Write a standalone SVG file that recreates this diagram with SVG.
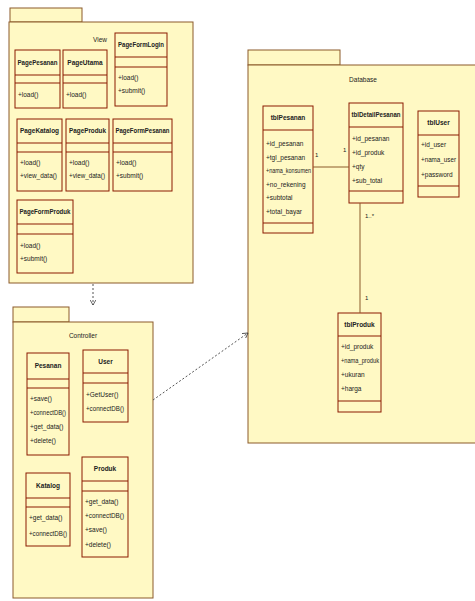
<svg xmlns="http://www.w3.org/2000/svg" width="475" height="601" viewBox="0 0 475 601">
<defs>
<style>
.pkg{fill:#FFF9C4;stroke:#8B5A2B;stroke-width:1}
.cls{fill:#FFF9C4;stroke:#8B1A00;stroke-width:1}
.sep{stroke:#8B1A00;stroke-width:1}
text{font-family:"Liberation Sans",Arial,sans-serif;font-size:6.5px;fill:#222}
.nm{font-weight:bold;text-anchor:middle}
.lbl{text-anchor:middle}
.dep{fill:none;stroke:#555;stroke-width:1;stroke-dasharray:2,2}
.asc{fill:none;stroke:#8B5A2B;stroke-width:1}
</style>
<marker id="open" viewBox="0 0 8 8" refX="7" refY="4" markerWidth="6" markerHeight="6" orient="auto">
<path d="M0,0 L7,4 L0,8" fill="none" stroke="#333" stroke-width="1"/>
</marker>
</defs>
<rect width="475" height="601" fill="#fff"/>

<g id="pkg-view">
<rect class="pkg" x="10" y="8" width="72" height="14"/>
<rect class="pkg" x="9" y="22" width="184" height="261"/>
<text class="lbl" x="100" y="42">View</text>
</g>
<g id="PagePesanan">
<rect class="cls" x="15" y="50" width="45" height="58"/>
<line class="sep" x1="15" y1="75" x2="60" y2="75"/><line class="sep" x1="15" y1="83" x2="60" y2="83"/>
<text class="nm" x="37.5" y="65" textLength="40" lengthAdjust="spacingAndGlyphs">PagePesanan</text>
<text x="18" y="97">+load()</text>
</g>
<g id="PageUtama">
<rect class="cls" x="63" y="50" width="44" height="58"/>
<line class="sep" x1="63" y1="75" x2="107" y2="75"/><line class="sep" x1="63" y1="83" x2="107" y2="83"/>
<text class="nm" x="85" y="65">PageUtama</text>
<text x="66" y="97">+load()</text>
</g>
<g id="PageFormLogin">
<rect class="cls" x="115" y="33" width="52" height="73"/>
<line class="sep" x1="115" y1="57" x2="167" y2="57"/><line class="sep" x1="115" y1="67" x2="167" y2="67"/>
<text class="nm" x="141" y="47" textLength="46" lengthAdjust="spacingAndGlyphs">PageFormLogin</text>
<text x="118" y="80">+load()</text>
<text x="118" y="93">+submit()</text>
</g>
<g id="PageKatalog">
<rect class="cls" x="17" y="119" width="45" height="72"/>
<line class="sep" x1="17" y1="143" x2="62" y2="143"/><line class="sep" x1="17" y1="152" x2="62" y2="152"/>
<text class="nm" x="39.5" y="133" textLength="39" lengthAdjust="spacingAndGlyphs">PageKatalog</text>
<text x="20" y="165">+load()</text>
<text x="20" y="178" textLength="37" lengthAdjust="spacingAndGlyphs">+view_data()</text>
</g>
<g id="PageProduk">
<rect class="cls" x="66" y="119" width="43" height="72"/>
<line class="sep" x1="66" y1="143" x2="109" y2="143"/><line class="sep" x1="66" y1="152" x2="109" y2="152"/>
<text class="nm" x="87.5" y="133" textLength="37" lengthAdjust="spacingAndGlyphs">PageProduk</text>
<text x="69" y="165">+load()</text>
<text x="69" y="178" textLength="36" lengthAdjust="spacingAndGlyphs">+view_data()</text>
</g>
<g id="PageFormPesanan">
<rect class="cls" x="113" y="119" width="59" height="72"/>
<line class="sep" x1="113" y1="143" x2="172" y2="143"/><line class="sep" x1="113" y1="152" x2="172" y2="152"/>
<text class="nm" x="142.5" y="133" textLength="54" lengthAdjust="spacingAndGlyphs">PageFormPesanan</text>
<text x="116" y="165">+load()</text>
<text x="116" y="178">+submit()</text>
</g>
<g id="PageFormProduk">
<rect class="cls" x="17" y="200" width="56" height="73"/>
<line class="sep" x1="17" y1="224" x2="73" y2="224"/><line class="sep" x1="17" y1="234" x2="73" y2="234"/>
<text class="nm" x="45" y="214" textLength="51" lengthAdjust="spacingAndGlyphs">PageFormProduk</text>
<text x="20" y="248">+load()</text>
<text x="20" y="261">+submit()</text>
</g>

<g id="pkg-controller">
<rect class="pkg" x="13" y="307" width="56" height="15"/>
<rect class="pkg" x="13" y="322" width="140" height="276"/>
<text class="lbl" x="83" y="338">Controller</text>
</g>
<g id="Pesanan">
<rect class="cls" x="27" y="353" width="42" height="102"/>
<line class="sep" x1="27" y1="379" x2="69" y2="379"/><line class="sep" x1="27" y1="388" x2="69" y2="388"/>
<text class="nm" x="48" y="368">Pesanan</text>
<text x="30" y="401">+save()</text>
<text x="30" y="415" textLength="36" lengthAdjust="spacingAndGlyphs">+connectDB()</text>
<text x="30" y="429">+get_data()</text>
<text x="30" y="443">+delete()</text>
</g>
<g id="User">
<rect class="cls" x="83" y="350" width="45" height="72"/>
<line class="sep" x1="83" y1="373" x2="128" y2="373"/><line class="sep" x1="83" y1="383" x2="128" y2="383"/>
<text class="nm" x="105.5" y="364">User</text>
<text x="86" y="397">+GetUser()</text>
<text x="86" y="411" textLength="38" lengthAdjust="spacingAndGlyphs">+connectDB()</text>
</g>
<g id="Katalog">
<rect class="cls" x="26" y="473" width="44" height="73"/>
<line class="sep" x1="26" y1="498" x2="70" y2="498"/><line class="sep" x1="26" y1="507" x2="70" y2="507"/>
<text class="nm" x="48" y="488">Katalog</text>
<text x="29" y="520">+get_data()</text>
<text x="29" y="536" textLength="38" lengthAdjust="spacingAndGlyphs">+connectDB()</text>
</g>
<g id="Produk">
<rect class="cls" x="82" y="457" width="46" height="100"/>
<line class="sep" x1="82" y1="481" x2="128" y2="481"/><line class="sep" x1="82" y1="491" x2="128" y2="491"/>
<text class="nm" x="105" y="471">Produk</text>
<text x="85" y="504">+get_data()</text>
<text x="85" y="518" textLength="39" lengthAdjust="spacingAndGlyphs">+connectDB()</text>
<text x="85" y="532">+save()</text>
<text x="85" y="547">+delete()</text>
</g>

<g id="pkg-database">
<rect class="pkg" x="248" y="50" width="92" height="15"/>
<rect class="pkg" x="248" y="65" width="230" height="378"/>
<text class="lbl" x="363" y="82">Database</text>
</g>
<g id="tblPesanan">
<rect class="cls" x="263" y="106" width="50" height="127"/>
<line class="sep" x1="263" y1="130" x2="313" y2="130"/><line class="sep" x1="263" y1="223" x2="313" y2="223"/>
<text class="nm" x="288" y="120">tblPesanan</text>
<text x="266" y="146">+id_pesanan</text>
<text x="266" y="159.5">+tgl_pesanan</text>
<text x="266" y="173" textLength="45" lengthAdjust="spacingAndGlyphs">+nama_konsumen</text>
<text x="266" y="186.5">+no_rekening</text>
<text x="266" y="200">+subtotal</text>
<text x="266" y="213.5">+total_bayar</text>
</g>
<g id="tblDetailPesanan">
<rect class="cls" x="349" y="103" width="54" height="100"/>
<line class="sep" x1="349" y1="127" x2="403" y2="127"/><line class="sep" x1="349" y1="191" x2="403" y2="191"/>
<text class="nm" x="376" y="117" textLength="49" lengthAdjust="spacingAndGlyphs">tblDetailPesanan</text>
<text x="352" y="141">+id_pesanan</text>
<text x="352" y="155">+id_produk</text>
<text x="352" y="169">+qty</text>
<text x="352" y="183">+sub_total</text>
</g>
<g id="tblUser">
<rect class="cls" x="418" y="111" width="41" height="86"/>
<line class="sep" x1="418" y1="135" x2="459" y2="135"/><line class="sep" x1="418" y1="186" x2="459" y2="186"/>
<text class="nm" x="438.5" y="125">tblUser</text>
<text x="421" y="147">+id_user</text>
<text x="421" y="162" textLength="35" lengthAdjust="spacingAndGlyphs">+nama_user</text>
<text x="421" y="177">+password</text>
</g>
<g id="tblProduk">
<rect class="cls" x="338" y="313" width="43" height="99"/>
<line class="sep" x1="338" y1="336" x2="381" y2="336"/><line class="sep" x1="338" y1="401" x2="381" y2="401"/>
<text class="nm" x="359.5" y="327">tblProduk</text>
<text x="341" y="349">+id_produk</text>
<text x="341" y="363" textLength="38" lengthAdjust="spacingAndGlyphs">+nama_produk</text>
<text x="341" y="377">+ukuran</text>
<text x="341" y="391">+harga</text>
</g>

<g id="connectors">
<line class="dep" x1="93" y1="284" x2="93" y2="305" marker-end="url(#open)"/>
<line class="dep" x1="153" y1="400" x2="248" y2="333" marker-end="url(#open)"/>
<line class="asc" x1="313" y1="167" x2="349" y2="167"/>
<line class="asc" x1="360" y1="203" x2="360" y2="313"/>
<text x="315" y="157" style="font-size:6px">1</text>
<text x="343" y="152" style="font-size:6px">1</text>
<text x="365" y="218" style="font-size:6px">1..*</text>
<text x="365" y="300" style="font-size:6px">1</text>
</g>
</svg>
